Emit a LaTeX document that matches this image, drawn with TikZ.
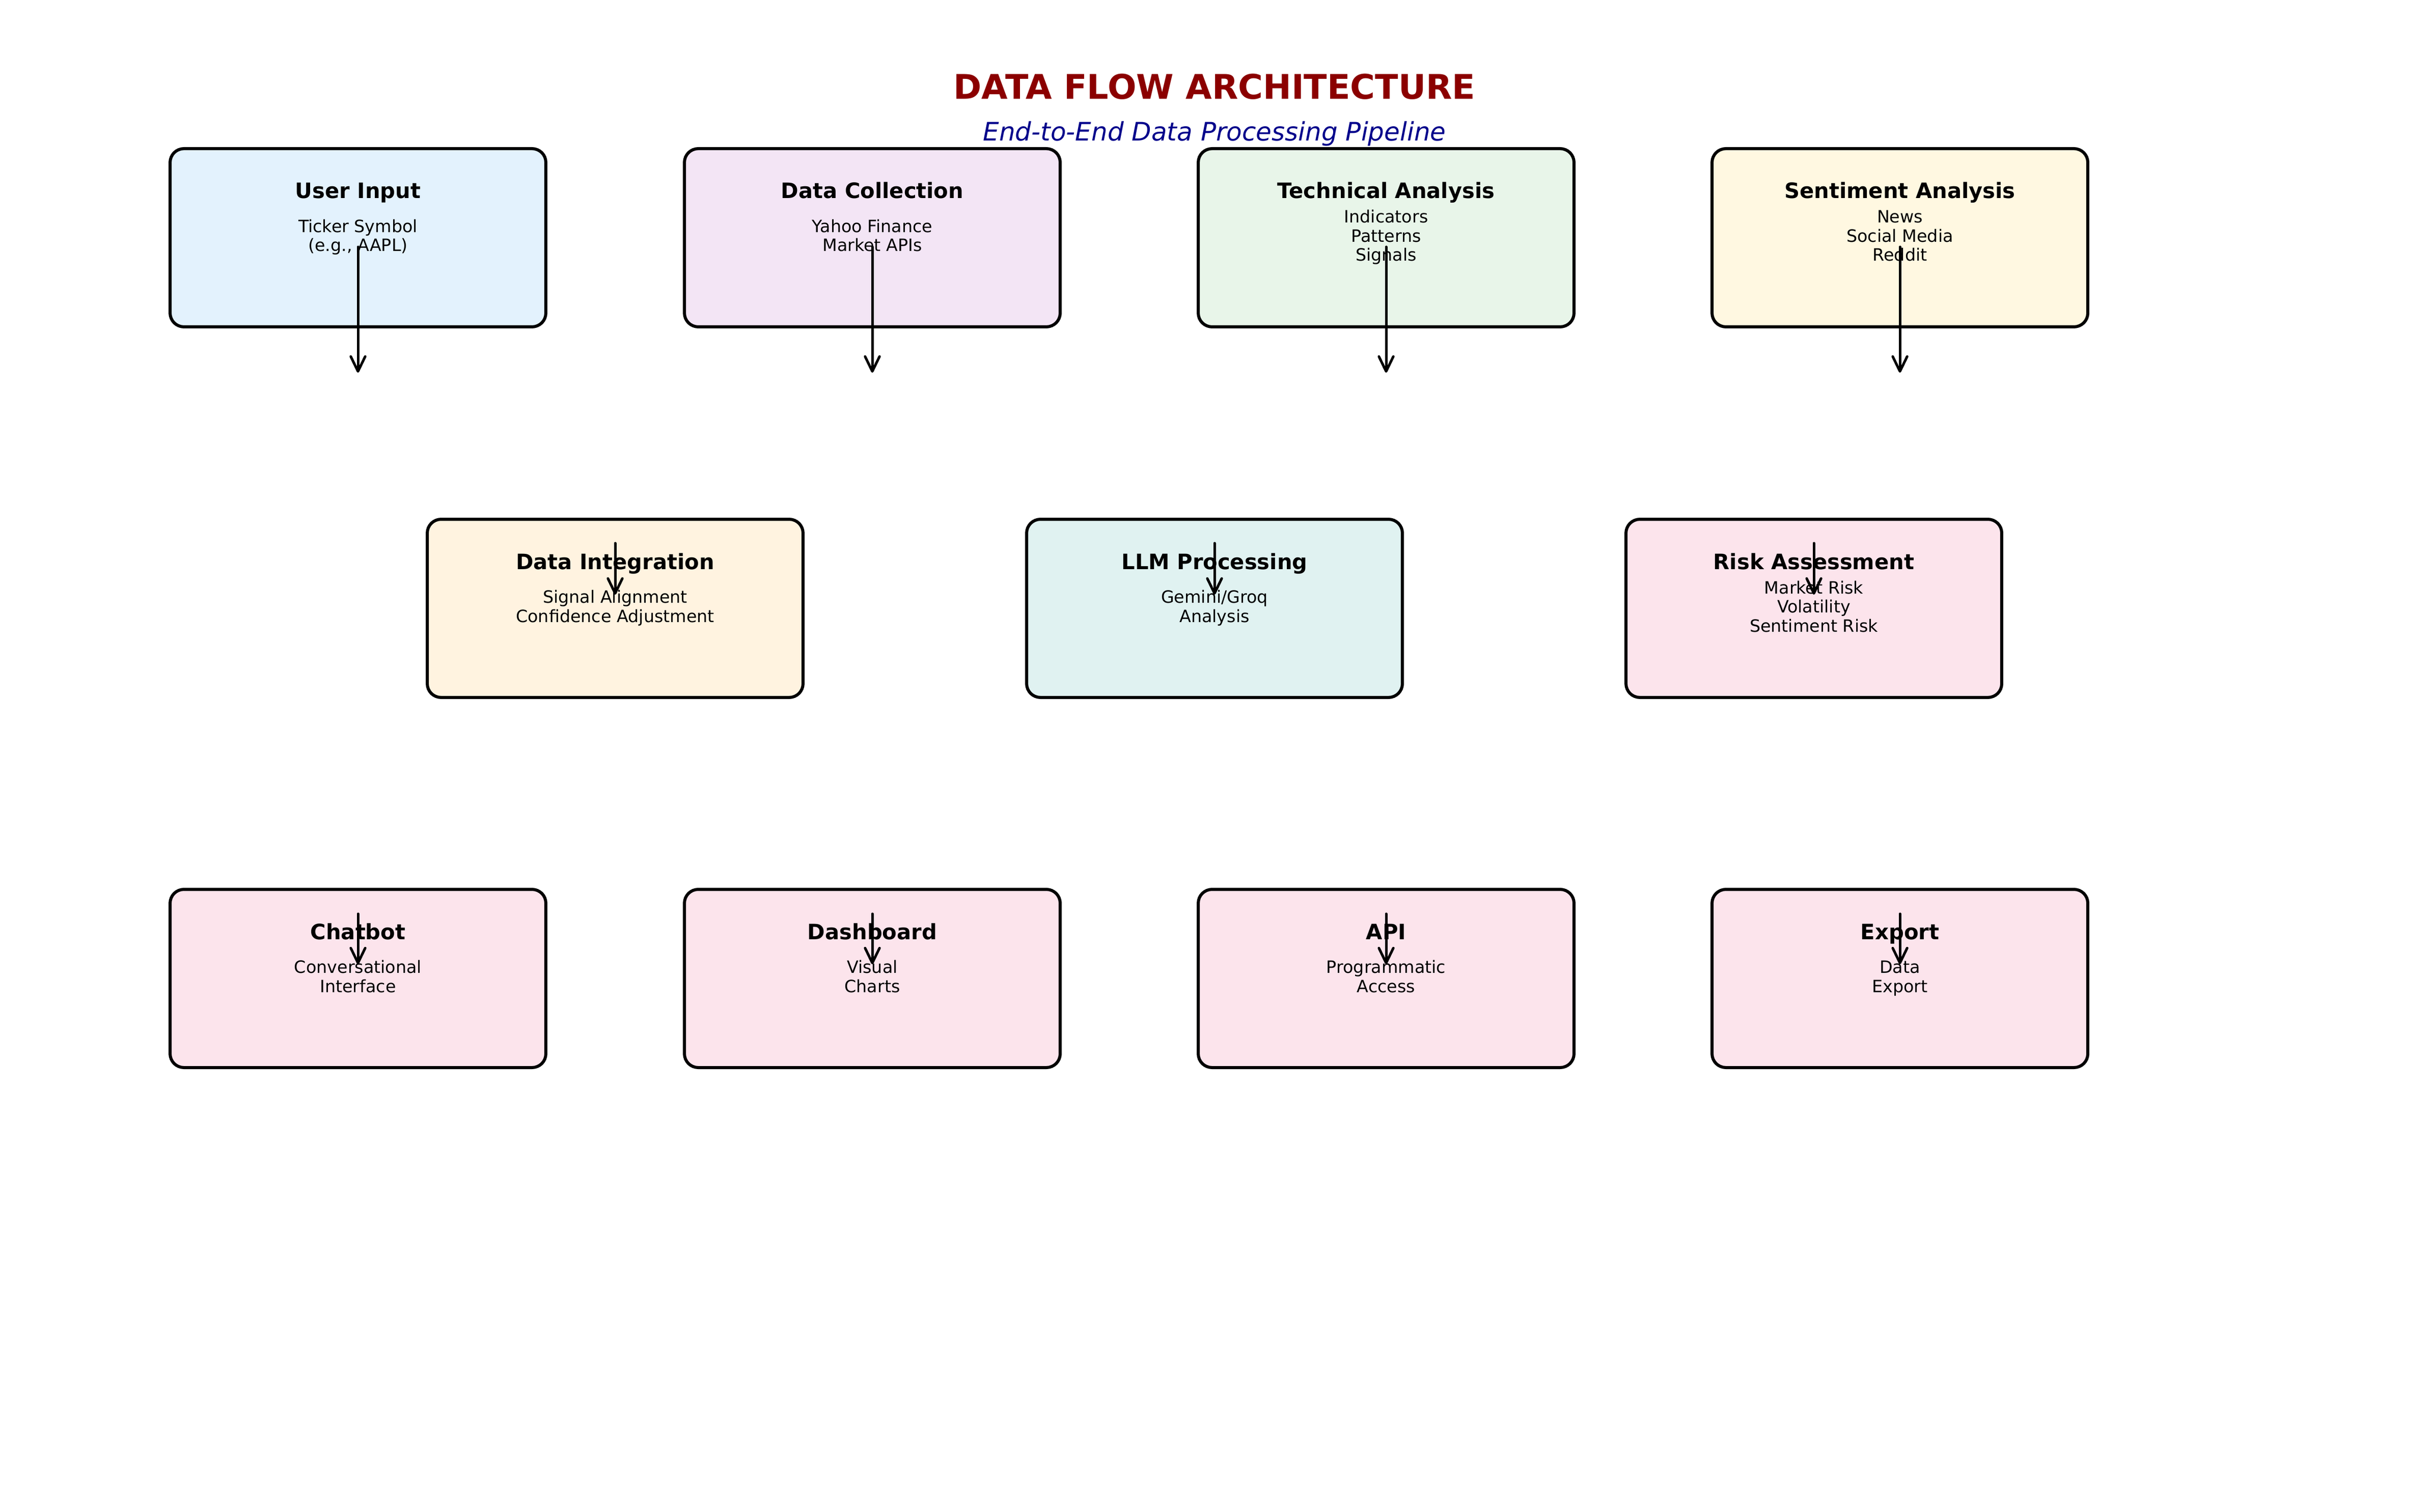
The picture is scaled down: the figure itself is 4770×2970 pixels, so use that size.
\documentclass[tikz,border=0pt]{standalone}
\usepackage{fontspec}
\setmainfont{DejaVu Sans}
\usetikzlibrary{arrows.meta}
\definecolor{titlered}{HTML}{8B0000}
\definecolor{subblue}{HTML}{00008B}
\definecolor{cinput}{HTML}{E3F2FD}
\definecolor{ccollect}{HTML}{F3E5F5}
\definecolor{ctech}{HTML}{E8F5E9}
\definecolor{csent}{HTML}{FFF8E1}
\definecolor{cinteg}{HTML}{FFF3E0}
\definecolor{cllm}{HTML}{E0F2F1}
\definecolor{crisk}{HTML}{FCE4EC}
\begin{document}
\begin{tikzpicture}[x=0.24pt,y=-0.24pt,
  flowbox/.style={draw=black,line width=1.44pt,rounded corners=6.5pt,
    minimum width=177.1pt,minimum height=84pt,inner sep=0pt,fill=#1},
  boxtitle/.style={anchor=base,inner sep=0pt,font=\fontsize{10}{12}\selectfont\bfseries},
  boxbody/.style={anchor=base,inner sep=0pt,align=center,font=\fontsize{8}{9}\selectfont},
  flowarrow/.style={line width=1.2pt,line cap=round,-{Straight Barb[length=7pt,width=6.8pt,round]}}]
\useasboundingbox (0,0) rectangle (4770,2970);
\fill[white] (0,0) rectangle (4770,2970);

\node[anchor=base,inner sep=0pt,text=titlered,font=\fontsize{16}{19}\selectfont\bfseries] (title) at (2385,195) {DATA FLOW ARCHITECTURE};
\node[anchor=base,inner sep=0pt,text=subblue,font=\fontsize{12}{14}\selectfont\itshape] (subtitle) at (2385,277) {End-to-End Data Processing Pipeline};

% Row 1
\node[flowbox=cinput] (user) at (703,467) {};
\node[boxtitle] (usert) at (703,390) {User Input};
\node[boxbody] (userb) at (703,494) {Ticker Symbol\\(e.g., AAPL)};

\node[flowbox=ccollect] (collect) at (1713,467) {};
\node[boxtitle] (collectt) at (1713,390) {Data Collection};
\node[boxbody] (collectb) at (1713,494) {Yahoo Finance\\Market APIs};

\node[flowbox=ctech] (tech) at (2722,467) {};
\node[boxtitle] (techt) at (2722,390) {Technical Analysis};
\node[boxbody] (techb) at (2722,513) {Indicators\\Patterns\\Signals};

\node[flowbox=csent] (sent) at (3731,467) {};
\node[boxtitle] (sentt) at (3731,390) {Sentiment Analysis};
\node[boxbody] (sentb) at (3731,513) {News\\Social Media\\Reddit};

% Row 2
\node[flowbox=cinteg] (integ) at (1208,1195) {};
\node[boxtitle] (integt) at (1208,1118) {Data Integration};
\node[boxbody] (integb) at (1208,1222) {Signal Alignment\\Confidence Adjustment};

\node[flowbox=cllm] (llm) at (2385,1195) {};
\node[boxtitle] (llmt) at (2385,1118) {LLM Processing};
\node[boxbody] (llmb) at (2385,1222) {Gemini/Groq\\Analysis};

\node[flowbox=crisk] (risk) at (3562,1195) {};
\node[boxtitle] (riskt) at (3562,1118) {Risk Assessment};
\node[boxbody] (riskb) at (3562,1241) {Market Risk\\Volatility\\Sentiment Risk};

% Row 3
\node[flowbox=crisk] (chat) at (703,1922) {};
\node[boxtitle] (chatt) at (703,1845) {Chatbot};
\node[boxbody] (chatb) at (703,1949) {Conversational\\Interface};

\node[flowbox=crisk] (dash) at (1713,1922) {};
\node[boxtitle] (dasht) at (1713,1845) {Dashboard};
\node[boxbody] (dashb) at (1713,1949) {Visual\\Charts};

\node[flowbox=crisk] (api) at (2722,1922) {};
\node[boxtitle] (apit) at (2722,1845) {API};
\node[boxbody] (apib) at (2722,1949) {Programmatic\\Access};

\node[flowbox=crisk] (export) at (3731,1922) {};
\node[boxtitle] (exportt) at (3731,1845) {Export};
\node[boxbody] (exportb) at (3731,1949) {Data\\Export};

% Arrow end points
\foreach \n/\x in {user/703,collect/1713,tech/2722,sent/3731}{
  \coordinate (\n s) at (\x,485);
  \coordinate (\n e) at (\x,732);
}
\foreach \n/\x in {integ/1208,llm/2385,risk/3562}{
  \coordinate (\n s) at (\x,1067);
  \coordinate (\n e) at (\x,1168);
}
\foreach \n/\x in {chat/703,dash/1713,api/2722,export/3731}{
  \coordinate (\n s) at (\x,1795);
  \coordinate (\n e) at (\x,1894);
}
\foreach \n in {user,collect,tech,sent,integ,llm,risk,chat,dash,api,export}{
  \draw[flowarrow] (\n s) -- (\n e);
}
\end{tikzpicture}
\end{document}
